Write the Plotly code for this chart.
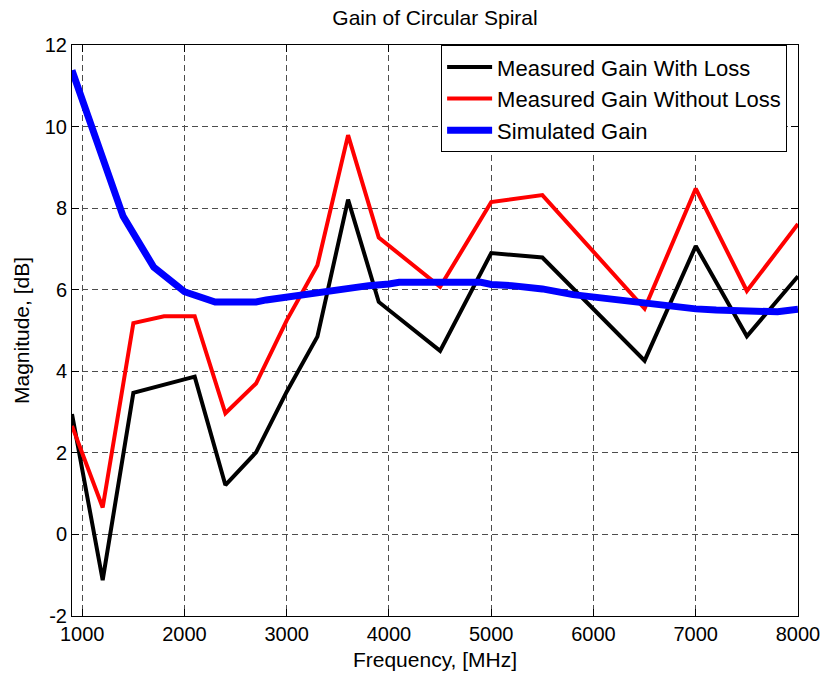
import plotly.graph_objects as go

meas_freq = [900, 1200, 1500, 1800, 2100, 2400, 2700, 3000, 3300, 3600, 3900, 4500, 5000, 5500, 6500, 7000, 7500, 8000]
gain_with_loss = [2.95, -1.12, 3.47, 3.67, 3.87, 1.21, 2.01, 3.50, 4.85, 8.21, 5.70, 4.50, 6.90, 6.79, 4.26, 7.07, 4.86, 6.33]
gain_without_loss = [2.66, 0.66, 5.18, 5.35, 5.35, 2.97, 3.70, 5.25, 6.60, 9.79, 7.28, 6.07, 8.15, 8.32, 5.54, 8.48, 5.97, 7.61]

sim_freq = [900, 1000, 1100, 1400, 1700, 2000, 2300, 2700, 2800, 3000, 3300, 3600, 3800, 4000, 4100,
            4900, 5000, 5200, 5500, 5800, 6000, 6300, 6500, 6800, 7000, 7200, 7500, 7800, 8000]
sim_gain = [11.38, 10.65, 9.95, 7.80, 6.55, 5.95, 5.70, 5.70, 5.75, 5.82, 5.95, 6.05, 6.10, 6.14, 6.18,
            6.18, 6.13, 6.10, 6.02, 5.88, 5.82, 5.73, 5.66, 5.58, 5.53, 5.50, 5.46, 5.46, 5.52]

x_ticks = [1000, 2000, 3000, 4000, 5000, 6000, 7000, 8000]
y_ticks = [-2, 0, 2, 4, 6, 8, 10, 12]

font = "Liberation Sans, Arial, sans-serif"

fig = go.Figure()
fig.add_trace(go.Scatter(x=meas_freq, y=gain_with_loss, mode="lines", name="Measured Gain With Loss",
                         line=dict(color="black", width=4)))
fig.add_trace(go.Scatter(x=meas_freq, y=gain_without_loss, mode="lines", name="Measured Gain Without Loss",
                         line=dict(color="red", width=4)))
fig.add_trace(go.Scatter(x=sim_freq, y=sim_gain, mode="lines", name="Simulated Gain",
                         line=dict(color="blue", width=7)))

axis_common = dict(showline=True, linecolor="black", linewidth=1, mirror="ticks", ticks="inside",
                   ticklen=7, tickcolor="black", showgrid=True, gridcolor="#4d4d4d", griddash="6px,4px",
                   gridwidth=1, zeroline=False, automargin=False,
                   tickfont=dict(size=20, color="black", family=font))

fig.update_layout(
    width=823, height=679,
    margin=dict(l=72, r=25, t=45, b=63),
    paper_bgcolor="white", plot_bgcolor="white",
    font=dict(family=font, color="black"),
    title=dict(text="Gain of Circular Spiral", x=0.5, xanchor="center", xref="paper",
               y=1 - 18 / 679, yanchor="middle", font=dict(size=21, color="black", family=font)),
    xaxis=dict(range=[900, 8000], tickvals=x_ticks, ticktext=[str(v) for v in x_ticks],
               title=dict(text="Frequency, [MHz]", font=dict(size=21, family=font), standoff=8),
               **axis_common),
    yaxis=dict(range=[-2, 12], tickvals=y_ticks, ticktext=[str(v) for v in y_ticks],
               title=dict(text="Magnitude, [dB]", font=dict(size=21, family=font), standoff=9),
               **axis_common),
    legend=dict(x=0.985, xanchor="right", y=0.906, yanchor="middle", bgcolor="white",
                bordercolor="black", borderwidth=1, font=dict(size=22, family=font, color="black"),
                tracegroupgap=0, itemwidth=45),
    showlegend=True,
)

fig.write_html("out.html")
